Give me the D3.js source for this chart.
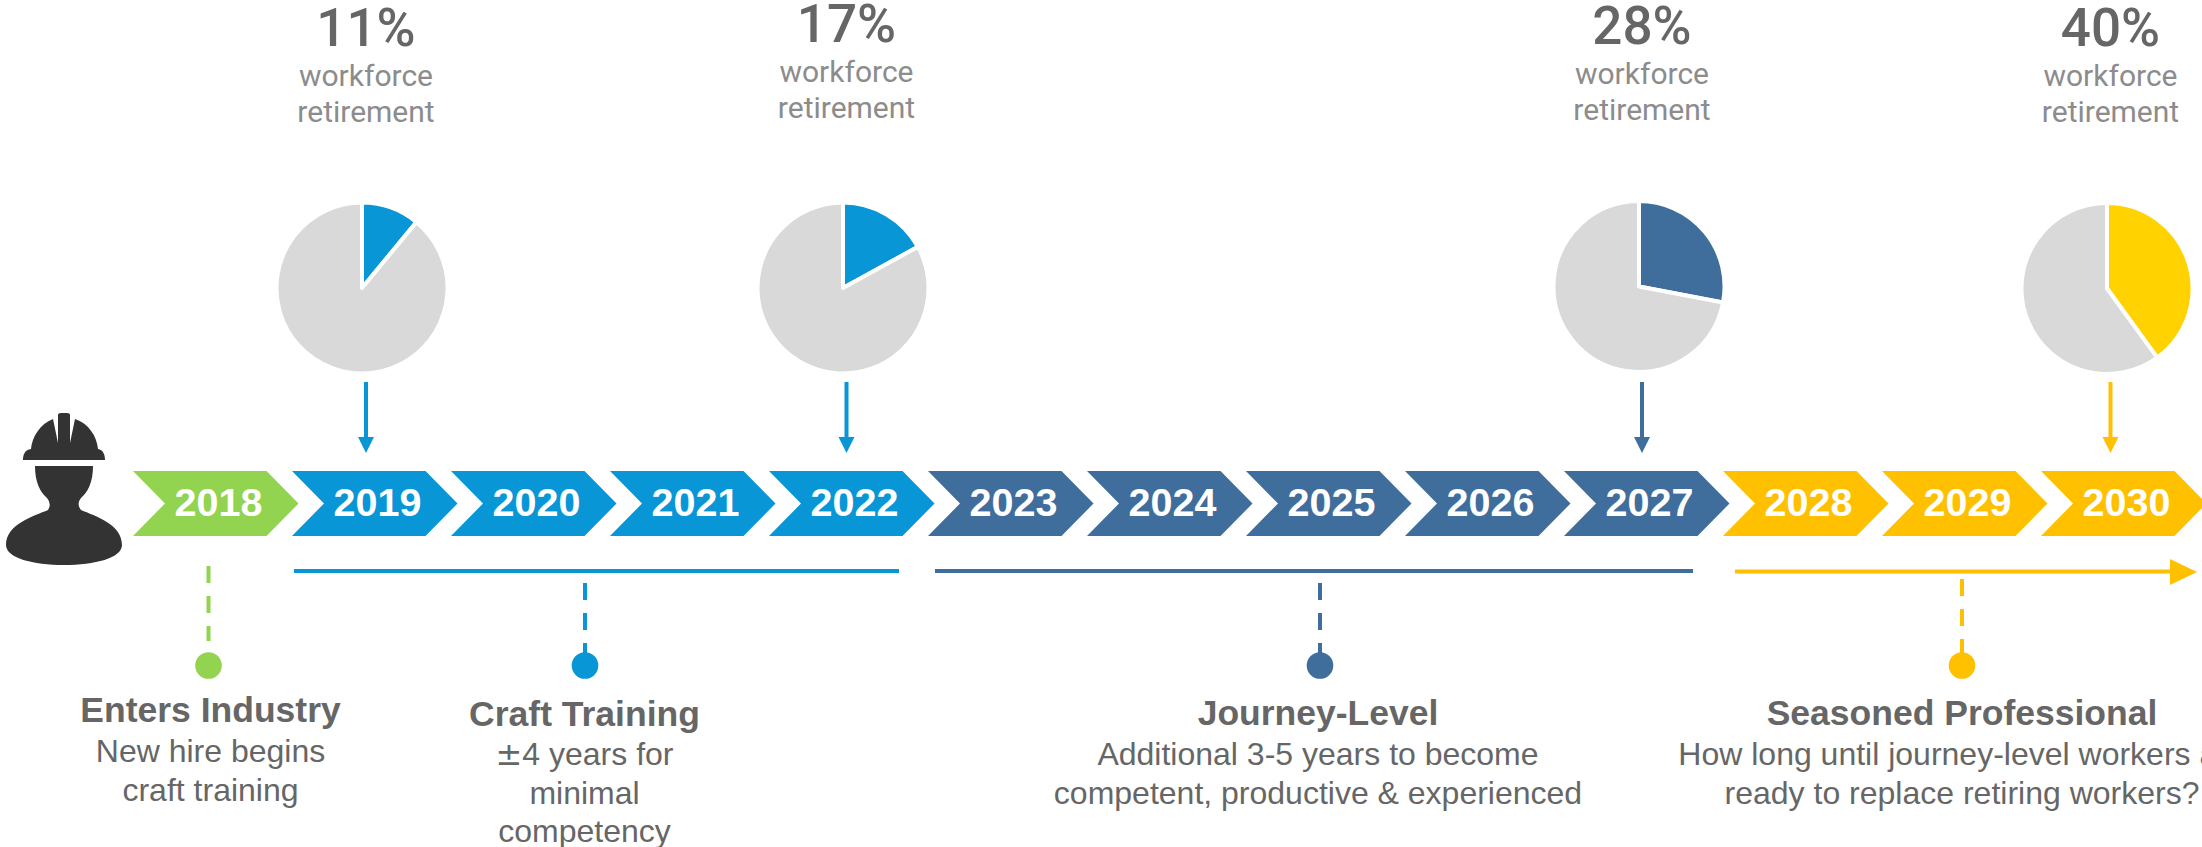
<!DOCTYPE html>
<html>
<head>
<meta charset="utf-8">
<style>
html,body{margin:0;padding:0;background:#fff;overflow:hidden}
svg{display:block}
</style>
<script src="https://cdn.jsdelivr.net/npm/d3@7/dist/d3.min.js"></script>
</head>
<body>
<svg id="timeline" width="2202" height="847"></svg>
<script>
// Timeline values
const years = [2018,2019,2020,2021,2022,2023,2024,2025,2026,2027,2028,2029,2030];
const stageOfYear = ["entry","craft","craft","craft","craft","journey","journey","journey","journey","journey","seasoned","seasoned","seasoned"];
const retirementYears = [2019,2022,2027,2030];
const retirementPct = [11,17,28,40];
const stageNames = ["entry","craft","journey","seasoned"];
const stageTitles = ["Enters Industry","Craft Training","Journey-Level","Seasoned Professional"];
const stageNotes = [
  ["New hire begins","craft training"],
  ["\u00B14 years for","minimal","competency"],
  ["Additional 3-5 years to become","competent, productive & experienced"],
  ["How long until journey-level workers are","ready to replace retiring workers?"]
];

// Styling and layout
const stageColor = d3.scaleOrdinal().domain(stageNames).range(["#92D350","#0896D7","#3F6D9C","#FFC000"]);
const pieColors = ["#0896D7","#0896D7","#3F6D9C","#FFD200"];
const arrowColors = ["#0896D7","#0896D7","#3F6D9C","#FFC000"];
const sans = "'Liberation Sans', Arial, sans-serif";
const labelFont = "Roboto,'Liberation Sans',sans-serif";
const svg = d3.select("#timeline");

const x = d3.scaleLinear().domain([2018,2030]).range([133,2041]);
const chev = {w:165.5, h:65, notch:32, top:471};

// Year chevrons
const chevron = d3.line();
const rows = svg.append("g").selectAll("g").data(years).join("g")
  .attr("transform", d => `translate(${x(d)},${chev.top})`);
rows.append("path")
  .attr("fill", (d,i) => stageColor(stageOfYear[i]))
  .attr("d", () => chevron([[0,0],[chev.w-chev.notch,0],[chev.w,chev.h/2],[chev.w-chev.notch,chev.h],[0,chev.h],[chev.notch,chev.h/2]])+"Z");
rows.append("text")
  .attr("x", 85.5).attr("y", 44.5)
  .attr("text-anchor","middle")
  .attr("font-family",sans).attr("font-weight",700).attr("font-size",39.5)
  .attr("fill","#fff")
  .text(d => d);

// Retirement pies, arrows and headline labels
const pieX = [362,843,1639,2107];
const pieY = [288,288,286.5,288.5];
const arrowX = [366,846.5,1642,2110.5];
const pctY = [46,42,44,46];
const wordY = [86,82,84,86];
const pie = d3.pie().sort(null);
const arc = d3.arc().innerRadius(0).outerRadius(85.5);
retirementPct.forEach((pct,i) => {
  const g = svg.append("g").attr("transform",`translate(${pieX[i]},${pieY[i]})`);
  g.selectAll("path").data(pie([pct,100-pct])).join("path")
    .attr("d",arc)
    .attr("fill",(d,j) => j===0 ? pieColors[i] : "#D9D9D9")
    .attr("stroke","#fff").attr("stroke-width",4).attr("stroke-linejoin","round");
  svg.append("line")
    .attr("x1",arrowX[i]).attr("x2",arrowX[i]).attr("y1",382).attr("y2",440)
    .attr("stroke",arrowColors[i]).attr("stroke-width",4);
  svg.append("path")
    .attr("d",d3.line()([[arrowX[i]-8,437],[arrowX[i]+8,437],[arrowX[i],453]])+"Z")
    .attr("fill",arrowColors[i]);
  const cx = arrowX[i];
  svg.append("text").attr("x",cx).attr("y",pctY[i]).attr("text-anchor","middle")
    .attr("font-family",labelFont).attr("font-weight",500).attr("font-size",53).attr("fill","#666").text(pct+"%");
  ["workforce","retirement"].forEach((w,k) => {
    svg.append("text").attr("x",cx).attr("y",wordY[i]+k*36).attr("text-anchor","middle")
      .attr("font-family",labelFont).attr("font-size",30).attr("fill","#8c8c8c").text(w);
  });
});

// Stage span rules
const spanRule = [[294,899,"craft"],[935,1693,"journey"]];
spanRule.forEach(([a,b,s]) => svg.append("line").attr("x1",a).attr("x2",b).attr("y1",571).attr("y2",571)
  .attr("stroke",stageColor(s)).attr("stroke-width",4));
svg.append("line").attr("x1",1735).attr("x2",2175).attr("y1",571.5).attr("y2",571.5)
  .attr("stroke",stageColor("seasoned")).attr("stroke-width",4);
svg.append("path").attr("d",d3.line()([[2170,559],[2197,572],[2170,585]])+"Z").attr("fill",stageColor("seasoned"));

// Stage callouts
const calloutX = [208.5,585,1320,1962];
const dashStart = [566,583,583,579];
const labelX = [210.5,584.5,1318,1962];
const titleY = [722,726,725,725];
const noteY = [762,765,765,765];
stageNames.forEach((s,i) => {
  svg.append("line").attr("x1",calloutX[i]).attr("x2",calloutX[i]).attr("y1",dashStart[i]).attr("y2",i===0?641:660)
    .attr("stroke",stageColor(s)).attr("stroke-width",4).attr("stroke-dasharray","17 13");
  svg.append("circle").attr("cx",calloutX[i]).attr("cy",665.5).attr("r",13.3).attr("fill",stageColor(s));
  svg.append("text").attr("x",labelX[i]).attr("y",titleY[i]).attr("text-anchor","middle")
    .attr("font-family",sans).attr("font-weight",700).attr("font-size",35.5).attr("fill","#666").text(stageTitles[i]);
  stageNotes[i].forEach((line,k) => {
    const t = svg.append("text").attr("x",labelX[i]).attr("y",noteY[i]+k*38.5).attr("text-anchor","middle")
      .attr("font-family",sans).attr("font-size",32).attr("fill","#666");
    // The plus-minus sign is set in a wider face than the rest of the line
    if (line.startsWith("\u00B1")) {
      t.append("tspan").attr("font-family","'DejaVu Sans'").text("\u00B1");
      t.append("tspan").text(line.slice(1));
    } else {
      t.text(line);
    }
  });
});

// Worker silhouette
const worker = svg.append("g").attr("fill","#333");
worker.append("path").attr("d","M23 460 C23 454 25 450 31 449 C32 437 40 424 53 419 L58 443 L58 415 Q58 413 61 413 L67 413 Q70 413 70 415 L70 443 L75 419 C88 423 97 436 98 449 C103 450 105 454 105 460 Z");
worker.append("path").attr("d","M35 466 L93 466 C93 482 88 492 81 498 Q76 504 81 510 C95 516 122 524 122 545 C122 558 95 565 64 565 C33 565 6 558 6 545 C6 524 34 516 48 510 Q52 504 47 498 C40 492 35 482 35 466 Z");
</script>
</body>
</html>
